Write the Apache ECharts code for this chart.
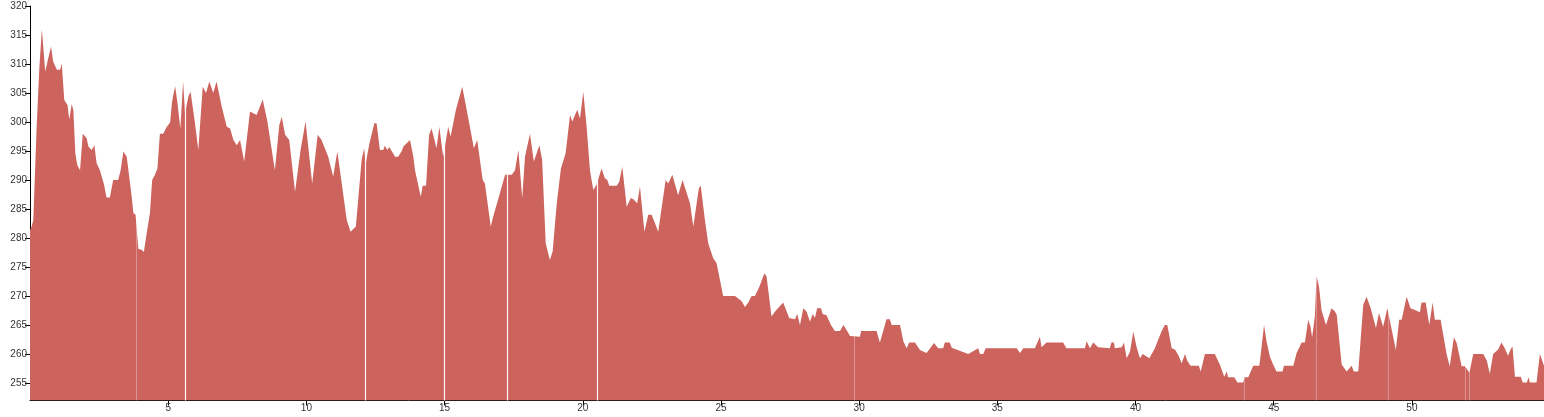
<!DOCTYPE html>
<html>
<head>
<meta charset="utf-8">
<script src="https://cdn.jsdelivr.net/npm/echarts@6/dist/echarts.min.js"></script>
<style>
html,body{margin:0;padding:0;background:#fff;}
#chart{width:1544px;height:417px;}
</style>
</head>
<body>
<div id="chart"></div>
<script>
// distance (km) along the route
const distKm = [
0.00,0.06,0.12,0.24,0.34,0.43,0.55,0.66,0.76,0.84,0.97,1.09,1.15,1.24,1.36,1.42,1.51,1.57,1.64,1.71,
1.81,1.91,2.05,2.11,2.23,2.33,2.41,2.53,2.68,2.77,2.89,3.01,3.19,3.28,3.38,3.44,3.50,3.56,3.68,3.74,
3.82,3.92,4.04,4.12,4.22,4.34,4.42,4.52,4.61,4.70,4.82,4.95,5.07,5.14,5.25,5.33,5.44,5.54,5.61,5.73,
5.81,5.97,6.09,6.25,6.37,6.49,6.63,6.75,6.94,7.12,7.24,7.36,7.48,7.60,7.75,7.96,8.20,8.42,8.59,8.86,
9.02,9.11,9.23,9.38,9.59,9.79,9.97,10.21,10.41,10.55,10.79,10.97,11.12,11.28,11.46,11.60,11.79,12.00,12.09,12.15,
12.28,12.46,12.54,12.66,12.78,12.84,12.93,13.00,13.21,13.32,13.45,13.51,13.75,13.87,13.93,14.14,14.21,14.33,14.44,14.53,
14.71,14.81,14.95,15.01,15.13,15.22,15.41,15.64,15.86,16.06,16.18,16.38,16.46,16.67,16.76,17.00,17.19,17.43,17.55,17.67,
17.81,17.91,18.09,18.23,18.43,18.53,18.66,18.81,18.91,19.06,19.21,19.38,19.54,19.62,19.80,19.90,20.02,20.14,20.26,20.38,
20.50,20.68,20.80,20.89,20.96,21.23,21.32,21.43,21.59,21.74,21.83,21.97,22.07,22.23,22.37,22.49,22.61,22.73,23.00,23.09,
23.24,23.45,23.61,23.88,24.00,24.20,24.27,24.42,24.54,24.72,24.84,25.08,25.51,25.75,25.87,25.99,26.11,26.23,26.39,26.57,
26.65,26.83,26.95,27.25,27.47,27.68,27.76,27.86,27.98,28.10,28.22,28.32,28.40,28.48,28.62,28.68,28.82,28.98,29.12,29.31,
29.43,29.55,29.67,30.03,30.07,30.63,30.75,30.87,30.99,31.11,31.18,31.48,31.60,31.72,31.81,32.02,32.20,32.44,32.71,32.86,
33.04,33.10,33.28,33.35,33.95,34.31,34.37,34.49,34.58,35.70,35.82,35.94,36.36,36.54,36.60,36.78,37.38,37.50,38.17,38.23,
38.35,38.47,38.65,38.71,39.07,39.13,39.22,39.25,39.50,39.58,39.68,39.80,39.92,40.04,40.16,40.26,40.50,40.70,40.94,41.06,
41.15,41.31,41.43,41.55,41.67,41.79,41.87,41.94,41.99,42.29,42.36,42.51,42.87,43.05,43.21,43.30,43.35,43.57,43.69,43.90,
43.94,44.08,44.26,44.48,44.56,44.65,44.74,44.86,44.98,45.10,45.32,45.37,45.71,45.83,46.01,46.13,46.25,46.33,46.39,46.49,
46.55,46.64,46.73,46.89,47.09,47.21,47.28,47.46,47.64,47.82,47.90,48.06,48.24,48.36,48.51,48.70,48.81,48.96,49.11,49.27,
49.42,49.54,49.63,49.81,49.95,50.11,50.29,50.35,50.50,50.63,50.75,50.83,51.04,51.26,51.37,51.52,51.62,51.80,51.92,52.08,
52.22,52.58,52.71,52.82,52.94,53.12,53.24,53.36,53.48,53.57,53.64,53.73,53.94,54.01,54.16,54.22,54.27,54.51,54.63,54.70,
54.78
];
// elevation (m)
const elevation = [
281.4,282,283.1,299.2,309.5,316,308.7,311,313,310.4,309,309,310.1,303.8,302.9,300.4,303.1,302,294.6,292.6,
291.7,298,297.2,295.8,295.2,296,292.9,291.7,289.2,287,287,290,290,291.7,294.9,295,294,294,287.1,284.3,
284,278.1,278,277.6,280.8,284.3,290,290.9,292,298,298,299.2,299.9,303.5,306.2,303.5,298.9,307,301.5,304.4,
305.2,299.8,295.2,306.1,305,307,305,307,302.6,299.2,298.9,296.9,296,296.9,293.2,301.8,301.2,303.9,300.1,291.7,
299.5,300.9,297.8,296.9,288,295.2,300.1,289.4,297.8,296.9,294,290.6,294.9,289.4,283.1,281.1,282,293.5,295.5,292.9,
296.3,299.8,299.8,295.2,295.2,295.9,295.2,295.7,294,294,295,295.8,296.9,294,291.7,287.1,289,289,297.8,298.9,
295.5,299.2,294,295.7,299.2,297.5,302.1,306.1,300.6,295.5,296.9,290,289.4,282,283.7,287.7,290.9,290.9,291.7,295.2,
286.9,294,298,293.2,296,293.5,279.1,276.2,277.7,286,292,294.6,301.2,300.1,302.1,300.6,305.2,299.2,291.7,288.3,
289.2,292,290.3,290,289,289,289.7,292.3,285.4,286.9,286.7,286,288.9,281.1,284,284,282.6,281.1,290,289.4,
290.9,287.4,290,286,282,288.6,289,283.1,279.1,276.5,275.7,270,270,269.1,268.1,268.9,270,270,271.6,273.9,
273.4,266.5,267.3,268.9,266.2,266,266.9,265,267.9,267.3,265.6,266.9,266.2,267.9,267.9,266.9,266.7,265,264,264,
265,264.1,263.1,263,264,264,262,264,266,266,265,265,262.2,261,262,262,260.7,260.2,261.9,261,
261,262,262,261.1,260,261,260,260,261,261,260.2,261,261,263,261.2,262,262,261,261,262.2,
261,262,261.2,261,261,262,262,261,261.2,262,259.3,260.4,263.9,261.2,259.3,260,259.3,261,263.9,265,
265,261,260.8,259.8,258.4,260,258.9,258.9,258,258,257,260,260,258.2,256.1,257,256,256,255.1,255.1,
256,256,258,258,261.2,265,262.2,259.6,258.2,257,257,258,258,260.2,262,262,265.9,264.7,262.9,266.5,
273.4,271.6,267.6,265,267.9,267.4,266.8,258.2,257,258,257,257,268.5,269.9,267.9,264.5,267.1,264.7,267.9,264.2,
260.7,265.9,265.9,269.9,267.9,267.6,267.2,268.9,268.9,265,268.9,265.9,265.9,259.9,257.9,262.9,261.9,257.9,257.9,256.8,
260,260,258.9,256.6,260,260.8,262,261,259.7,260.8,261.3,256.1,256.1,255.1,255.1,256,255.1,255.1,260,260,
258
];
// seams between track segments (km)
const brightSeams = [5.61, 12.12, 14.98, 17.26, 20.51];
const faintSeams = [3.83, 29.81, 43.92, 46.53, 49.13, 51.94, 52.07];
// tick labels
const xTicks = [5, 10, 15, 20, 25, 30, 35, 40, 45, 50];
const yTicks = [255, 260, 265, 270, 275, 280, 285, 290, 295, 300, 305, 310, 315, 320];

const points = distKm.map((d, i) => [d, elevation[i]]);
const seamLines = brightSeams.map(v => ({xAxis: v, lineStyle: {color: 'rgba(255,255,255,0.95)', width: 1.2, type: 'solid'}}))
  .concat(faintSeams.map(v => ({xAxis: v, lineStyle: {color: 'rgba(255,255,255,0.3)', width: 1, type: 'solid'}})));

const chart = echarts.init(document.getElementById('chart'), null, {renderer: 'canvas'});
const axisFont = {color: '#333', fontSize: 10, fontFamily: 'Liberation Sans, Arial, sans-serif'};
chart.setOption({
  animation: false,
  backgroundColor: '#fff',
  grid: {left: 30, right: 0, top: 6, bottom: 16.5, containLabel: false},
  xAxis: {
    type: 'value', min: 0, max: 54.78,
    axisLine: {show: true, lineStyle: {color: '#000', width: 1}},
    axisTick: {show: true, length: 5, lineStyle: {color: '#000'}, customValues: xTicks},
    axisLabel: Object.assign({show: true, margin: 3, customValues: xTicks}, axisFont),
    splitLine: {show: false}
  },
  yAxis: {
    type: 'value', min: 252, max: 320,
    axisLine: {show: true, lineStyle: {color: '#000', width: 1}},
    axisTick: {show: true, length: 5, lineStyle: {color: '#000'}, customValues: yTicks},
    axisLabel: Object.assign({show: true, margin: 3, customValues: yTicks}, axisFont),
    splitLine: {show: false}
  },
  series: [{
    type: 'line',
    data: points,
    showSymbol: false,
    symbol: 'none',
    lineStyle: {width: 0},
    areaStyle: {color: '#CD635D', opacity: 1, origin: 'start'},
    itemStyle: {color: '#CD635D'},
    markLine: {
      silent: true, symbol: 'none', label: {show: false},
      lineStyle: {type: 'solid'},
      data: seamLines, animation: false
    }
  }]
});
</script>
</body>
</html>
